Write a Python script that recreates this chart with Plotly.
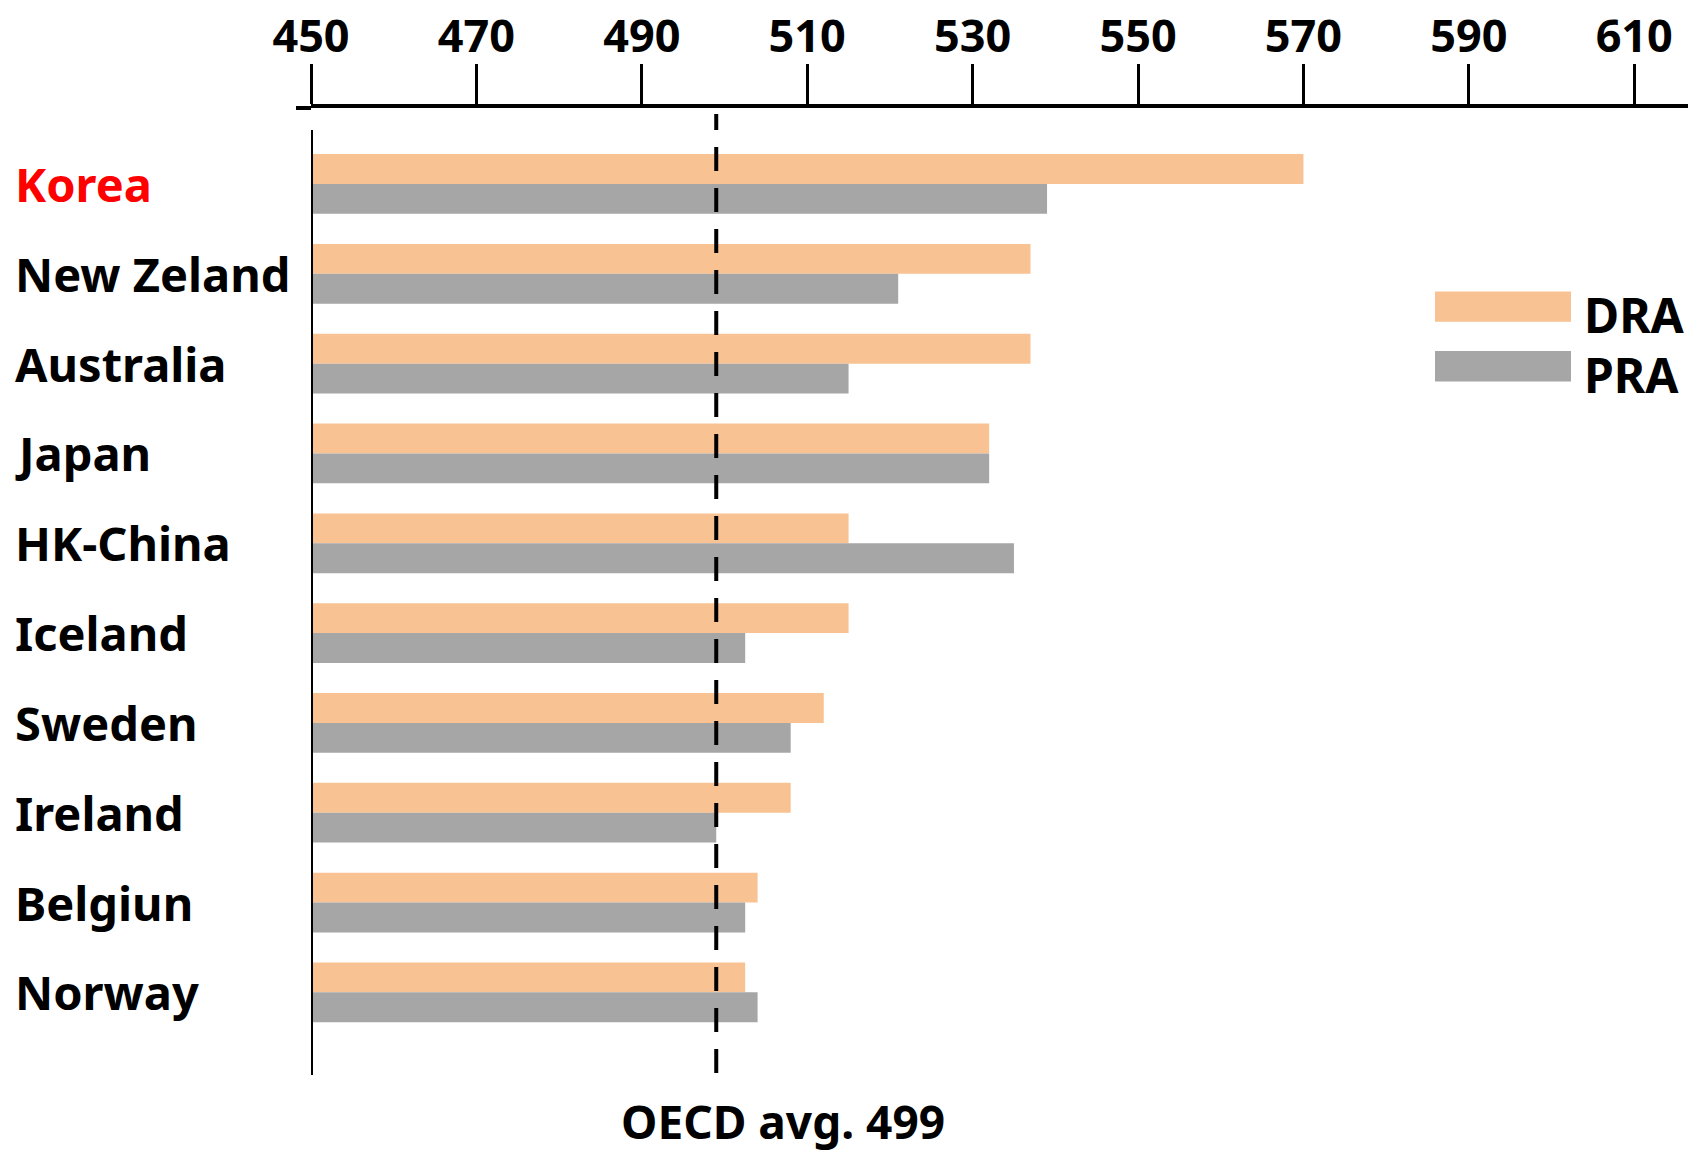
import plotly.graph_objects as go

countries = ["Korea", "New Zeland", "Australia", "Japan", "HK-China",
             "Iceland", "Sweden", "Ireland", "Belgiun", "Norway"]
dra = [570, 537, 537, 532, 515, 515, 512, 508, 504, 502.5]
pra = [539, 521, 515, 532, 535, 502.5, 508, 499, 502.5, 504]
tick_vals = [450, 470, 490, 510, 530, 550, 570, 590, 610]
oecd_avg = 499

FONT = "Noto Sans"
DRA_COLOR = "#F9C292"
PRA_COLOR = "#A6A6A6"

fig = go.Figure()
fig.add_trace(go.Bar(y=countries, x=dra, orientation="h", name="DRA",
                     marker=dict(color=DRA_COLOR, line=dict(width=0))))
fig.add_trace(go.Bar(y=countries, x=pra, orientation="h", name="PRA",
                     marker=dict(color=PRA_COLOR, line=dict(width=0))))

W, H = 1699, 1155
ml, mr, mt, mb = 311, 11, 108, 80
pw, ph = W - ml - mr, H - mt - mb

fig.update_layout(
    width=W, height=H,
    margin=dict(l=ml, r=mr, t=mt, b=mb, pad=0, autoexpand=False),
    paper_bgcolor="white", plot_bgcolor="white",
    barmode="group", bargap=0.335, bargroupgap=0,
    showlegend=False,
    font=dict(family=FONT, color="black"),
    xaxis=dict(side="top", range=[450, 616.5], tickvals=tick_vals,
               ticks="outside", ticklen=40, tickwidth=3, tickcolor="black",
               showline=True, linewidth=4, linecolor="black",
               showgrid=False, zeroline=False, automargin=False,
               tickfont=dict(family=FONT, size=45, weight="bold"),
               ticklabelstandoff=-6),
    yaxis=dict(type="category", categoryorder="array", categoryarray=countries,
               range=[9.92, -0.846], showticklabels=False, ticks="",
               showgrid=False, zeroline=False, showline=False, automargin=False),
)

# extension of top axis line to the left
fig.add_shape(type="line", xref="paper", yref="paper",
              x0=(296 - ml) / pw, x1=0, y0=1, y1=1,
              line=dict(color="black", width=4))
# left vertical baseline at 450
fig.add_shape(type="line", xref="x", yref="paper", x0=450, x1=450,
              y0=0, y1=(1075 - 130) / ph,
              line=dict(color="black", width=4))
# OECD average dashed line
fig.add_shape(type="line", xref="x", yref="paper", x0=oecd_avg, x1=oecd_avg,
              y0=(1075 - 1073) / ph, y1=(1075 - 114) / ph,
              line=dict(color="black", width=4, dash="24px,17px"))

# category labels (left aligned)
for i, c in enumerate(countries):
    fig.add_annotation(text=c, xref="paper", yref="y", x=(13 - ml) / pw, y=c,
                       xanchor="left", yanchor="middle", showarrow=False,
                       font=dict(family=FONT, size=47, weight="bold",
                                 color="#FF0000" if c == "Korea" else "black"))

# OECD label
fig.add_annotation(text=f"OECD avg. {oecd_avg}", xref="paper", yref="paper",
                   x=(783 - ml) / pw, y=-(1121 - 1075) / ph,
                   xanchor="center", yanchor="middle", showarrow=False,
                   font=dict(family=FONT, size=46, weight="bold", color="black"))

# legend drawn manually
leg = [("DRA", DRA_COLOR, 291.5, 321.8), ("PRA", PRA_COLOR, 351, 381.4)]
for name, col, ytop, ybot in leg:
    fig.add_shape(type="rect", xref="paper", yref="paper",
                  x0=(1435 - ml) / pw, x1=(1571 - ml) / pw,
                  y0=(1075 - ybot) / ph, y1=(1075 - ytop) / ph,
                  fillcolor=col, line=dict(width=0))
    fig.add_annotation(text=name, xref="paper", yref="paper",
                       x=(1582 - ml) / pw, y=(1075 - (ytop + ybot) / 2 - 8) / ph,
                       xanchor="left", yanchor="middle", showarrow=False,
                       font=dict(family=FONT, size=48, weight="bold", color="black"))

fig.write_html("out.html", config={"displayModeBar": False},
               post_script="document.body.style.margin='0px';document.body.style.overflow='hidden';")
